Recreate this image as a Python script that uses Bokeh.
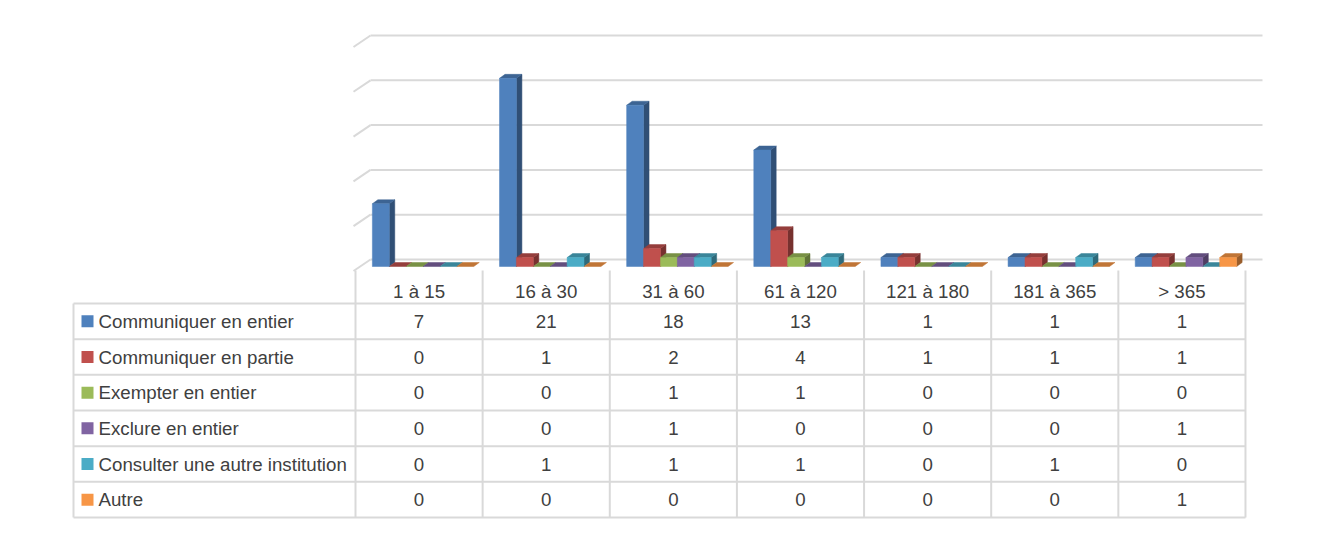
from bokeh.plotting import figure
from bokeh.models import Range1d
from bokeh.embed import file_html
from bokeh.resources import INLINE
from bokeh.core.properties import value

# ---------------- data ----------------
categories = ["1 à 15", "16 à 30", "31 à 60", "61 à 120", "121 à 180", "181 à 365", "> 365"]
series_names = ["Communiquer en entier", "Communiquer en partie", "Exempter en entier",
                "Exclure en entier", "Consulter une autre institution", "Autre"]
communiquer_entier = [7, 21, 18, 13, 1, 1, 1]
communiquer_partie = [0, 1, 2, 4, 1, 1, 1]
exempter_entier = [0, 0, 1, 1, 0, 0, 0]
exclure_entier = [0, 0, 1, 0, 0, 0, 1]
consulter_institution = [0, 1, 1, 1, 0, 1, 0]
autre = [0, 0, 0, 0, 0, 0, 1]
grid_values = [0, 5, 10, 15, 20, 25]

series_values = [communiquer_entier, communiquer_partie, exempter_entier,
                 exclure_entier, consulter_institution, autre]
colors = ["#4F81BD", "#C0504D", "#9BBB59", "#8064A2", "#4BACC6", "#F79646"]

# ---------------- layout helpers (screen pixel -> data units) ----------------
W, H, PAGE = 1312, 534, 0
COL0, COLW = 355.0, 127.14      # left edge of first category column, column width
BASE, PXU = 266.0, 8.96         # bar base line, pixels per value unit
ROW0, ROWH = 303.0, 35.67       # first table row top, row height


def fx(px):
    return (px - COL0) / COLW


def fy(py):
    return (BASE - py) / PXU


def ft(py):
    return (py - ROW0) / ROWH


def shade(hexcol, f):
    h = hexcol.lstrip("#")
    r, g, b = (int(h[i:i + 2], 16) for i in (0, 2, 4))
    return "#%02x%02x%02x" % (int(r * f), int(g * f), int(b * f))


p = figure(width=W, height=H, output_backend="svg", toolbar_location=None,
           x_range=Range1d(fx(PAGE), fx(PAGE + W)),
           y_range=Range1d(fy(PAGE + H), fy(PAGE)),
           x_axis_location=None, y_axis_location=None,
           min_border=0, outline_line_color=None,
           background_fill_color="white", border_fill_color="white")
p.grid.visible = False
p.extra_y_ranges = {"tbl": Range1d(start=ft(PAGE + H), end=ft(PAGE))}

GRID = "#D9D9D9"
TXT = "#404040"
FONT = value("Liberation Sans")
FS = "18.7px"

# ---------------- walls / gridlines ----------------
back_off = (BASE - 259.0) / PXU
front_off = -0.5
p.segment(x0=[fx(370)] * len(grid_values), x1=[fx(1262)] * len(grid_values),
          y0=[v + back_off for v in grid_values], y1=[v + back_off for v in grid_values],
          line_color=GRID, line_width=2)
p.segment(x0=[fx(353)] * len(grid_values), x1=[fx(370)] * len(grid_values),
          y0=[v + front_off for v in grid_values], y1=[v + back_off for v in grid_values],
          line_color=GRID, line_width=2)

# ---------------- 3D bars ----------------
w = 16.9 / COLW
shift = 4.0 / COLW
ddx = 5.5 / COLW
ddy = 4.0 / PXU

side_xs, side_ys, side_c = [], [], []
top_xs, top_ys, top_c = [], [], []
fl, fr, ft_, fb, fc = [], [], [], [], []
for c in range(len(categories)):
    for s, vals in enumerate(series_values):
        v = vals[c]
        xl = c + 0.5 + (s - 3) * w + shift
        xr = xl + w
        if v > 0:
            side_xs.append([xr, xr + ddx, xr + ddx, xr])
            side_ys.append([0, ddy, v + ddy, v])
            side_c.append(shade(colors[s], 0.62))
            fl.append(xl); fr.append(xr); fb.append(0); ft_.append(v); fc.append(colors[s])
        top_xs.append([xl, xr, xr + ddx, xl + ddx])
        top_ys.append([v, v, v + ddy, v + ddy])
        top_c.append(shade(colors[s], 0.78))

p.patches(side_xs, side_ys, fill_color=side_c, line_color=side_c, line_width=0.5)
p.patches(top_xs, top_ys, fill_color=top_c, line_color=top_c, line_width=0.5)
p.quad(left=fl, right=fr, bottom=fb, top=ft_, fill_color=fc, line_color=fc, line_width=0.5)

# ---------------- data table ----------------
nrows = len(series_names)
ncols = len(categories)
# horizontal lines
p.segment(x0=[fx(73)] * (nrows + 1), x1=[ncols] * (nrows + 1),
          y0=list(range(nrows + 1)), y1=list(range(nrows + 1)),
          line_color=GRID, line_width=2, y_range_name="tbl")
# vertical lines
p.segment(x0=[fx(73)], x1=[fx(73)], y0=[0], y1=[nrows],
          line_color=GRID, line_width=2, y_range_name="tbl")
p.segment(x0=list(range(ncols + 1)), x1=list(range(ncols + 1)),
          y0=[ft(270)] * (ncols + 1), y1=[nrows] * (ncols + 1),
          line_color=GRID, line_width=2, y_range_name="tbl")

# header
p.text(x=[c + 0.5 for c in range(ncols)], y=[ft(291)] * ncols, text=categories,
       text_align="center", text_baseline="middle", text_color=TXT,
       text_font=FONT, text_font_size=FS, y_range_name="tbl")

# legend keys + names
p.scatter(x=[fx(87)] * nrows, y=[k + 0.5 for k in range(nrows)], marker="square",
          size=12, fill_color=colors, line_color=None, y_range_name="tbl")
p.text(x=[fx(98)] * nrows, y=[k + 0.5 for k in range(nrows)], text=series_names,
       text_align="left", text_baseline="middle", text_color=TXT,
       text_font=FONT, text_font_size=FS, y_range_name="tbl")

# values
vx, vy, vt = [], [], []
for k, vals in enumerate(series_values):
    for c in range(ncols):
        vx.append(c + 0.5)
        vy.append(k + 0.5)
        vt.append(str(vals[c]))
p.text(x=vx, y=vy, text=vt, text_align="center", text_baseline="middle",
       text_color=TXT, text_font=FONT, text_font_size=FS, y_range_name="tbl")

open("out.html", "w").write(file_html(p, INLINE))
